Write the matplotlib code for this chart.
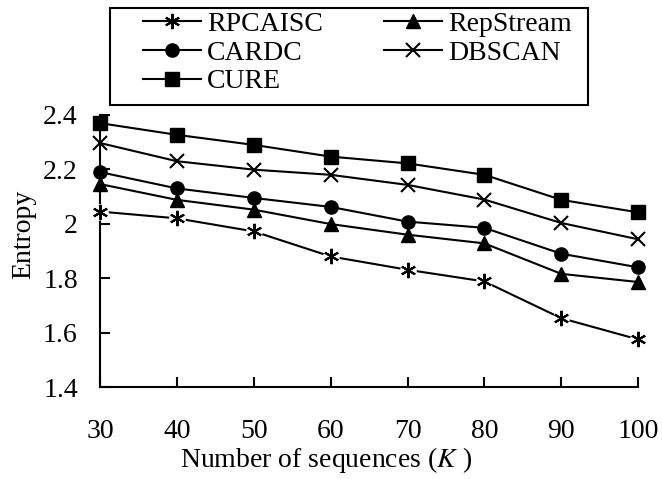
import numpy as np
import matplotlib
matplotlib.use('Agg')
import matplotlib.pyplot as plt
from matplotlib.patches import Rectangle

plt.rcParams['font.family'] = ['Liberation Serif', 'DejaVu Serif']
plt.rcParams['mathtext.fontset'] = 'stix'

# data
sequences = [30, 40, 50, 60, 70, 80, 90, 100]
rpcaisc = [2.045, 2.02, 1.972, 1.88, 1.831, 1.788, 1.653, 1.575]
cardc = [2.19, 2.13, 2.095, 2.062, 2.008, 1.985, 1.89, 1.84]
cure = [2.37, 2.327, 2.29, 2.247, 2.222, 2.18, 2.088, 2.042]
repstream = [2.146, 2.088, 2.052, 1.999, 1.96, 1.928, 1.816, 1.786]
dbscan = [2.297, 2.23, 2.199, 2.18, 2.143, 2.089, 2.003, 1.943]

fs = 20
fig = plt.figure(figsize=(6.62, 4.79), dpi=100)
ax = fig.add_axes([0.151, 0.192, 0.813, 0.568])

lw = 1.5
ax.plot(sequences, rpcaisc, color='k', lw=lw, marker=(6, 2, 0), ms=11, mew=1.5, label='RPCAISC', zorder=3)
# white gap around the asterisks like in the original
ax.plot(sequences, rpcaisc, ls='none', marker='o', ms=12, mfc='w', mec='none', zorder=3.5)
ax.plot(sequences, rpcaisc, ls='none', marker=(6, 2, 0), ms=11, mew=1.5, color='k', zorder=4)
ax.plot(sequences, cardc, color='k', lw=lw, marker='o', ms=9.5, label='CARDC', zorder=3)
ax.plot(sequences, cure, color='k', lw=lw, marker='s', ms=9.5, label='CURE', zorder=3)
ax.plot(sequences, repstream, color='k', lw=lw, marker='^', ms=10, label='RepStream', zorder=3)
ax.plot(sequences, dbscan, color='k', lw=lw, marker='x', ms=10.5, mew=1.5, label='DBSCAN', zorder=3)

ax.set_xlim(30, 100)
ax.set_ylim(1.4, 2.4)
ax.set_xticks(sequences)
ax.set_yticks([1.4, 1.6, 1.8, 2.0, 2.2, 2.4])
ax.set_yticklabels(['1.4', '1.6', '1.8', '2', '2.2', '2.4'])
ax.tick_params(direction='in', length=7, width=1.5, labelsize=fs)
ax.tick_params(axis='x', pad=23)
ax.tick_params(axis='y', pad=16)
ax.spines['top'].set_visible(False)
ax.spines['right'].set_visible(False)
for s in ['left', 'bottom']:
    ax.spines[s].set_linewidth(1.5)
for line in ax.lines:
    line.set_clip_on(False)

ax.set_xlabel('Number of sequences ($K$ )', fontsize=fs, labelpad=1, x=0.42)
ax.set_ylabel('Entropy', fontsize=fs, labelpad=5, y=0.56)

# legend box drawn by hand, entries placed inside
fig.patches.append(Rectangle((0.166, 0.781), 0.722, 0.2025, transform=fig.transFigure,
                             fill=False, edgecolor='k', lw=1.5))
handles, labels = ax.get_legend_handles_labels()
fig.legend(handles, labels, loc='upper left', bbox_to_anchor=(0.216, 0.976),
           ncol=2, fontsize=fs, frameon=False, handlelength=2.1, handletextpad=0.2,
           labelspacing=0.12, borderaxespad=0, borderpad=0, columnspacing=2.2)

fig.savefig('out.png', dpi=100)
